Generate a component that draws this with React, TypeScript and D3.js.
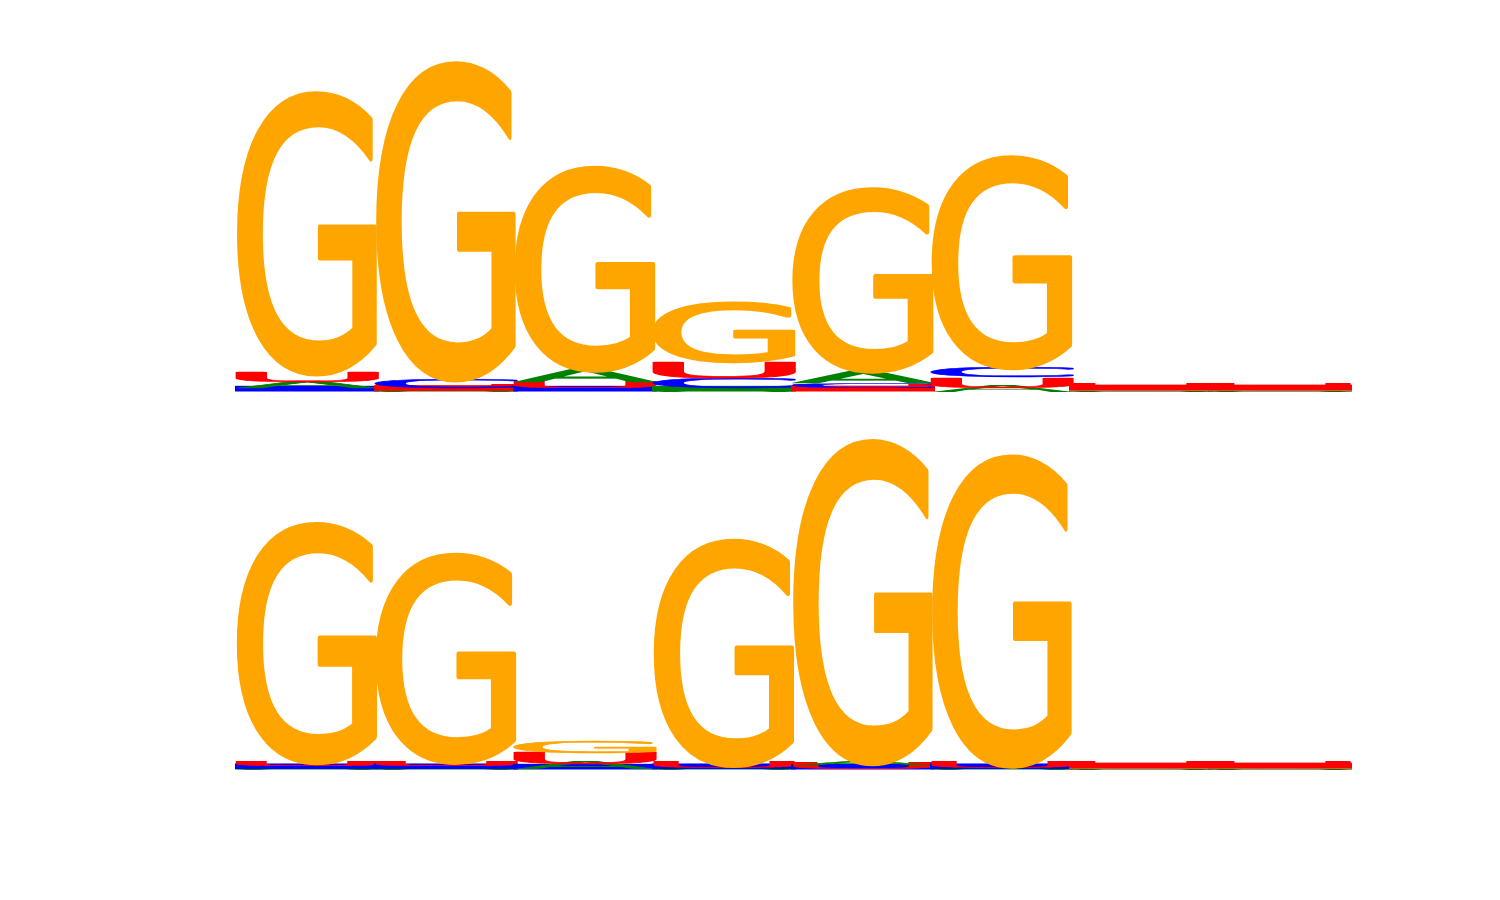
import React from 'react';
import * as d3 from 'd3';

// RNA sequence logo, two motifs, 8 positions each (heights in bits)
const letters = ['A', 'C', 'G', 'U'];
const letterColors: Record<string, string> = { A: '#008000', C: '#0000ff', G: '#ffa500', U: '#ff0000' };

const row1A = [0.038, 0.003, 0.076, 0.004, 0.071, 0.006, 0.002, 0.002];
const row1C = [0.004, 0.059, 0.004, 0.062, 0.032, 0.065, 0.002, 0.002];
const row1G = [1.65, 1.862, 1.191, 0.35, 1.068, 1.238, 0.002, 0.002];
const row1U = [0.059, 0.005, 0.038, 0.094, 0.005, 0.062, 0.005, 0.005];

const row2A = [0.003, 0.003, 0.012, 0.003, 0.024, 0.003, 0.002, 0.002];
const row2C = [0.003, 0.003, 0.004, 0.003, 0.003, 0.003, 0.002, 0.002];
const row2G = [1.403, 1.221, 0.072, 1.321, 1.897, 1.821, 0.002, 0.002];
const row2U = [0.029, 0.029, 0.068, 0.012, 0.006, 0.012, 0.005, 0.005];

const rows = [
    { baseline: 389, values: [row1A, row1C, row1G, row1U] },
    { baseline: 767, values: [row2A, row2C, row2G, row2U] },
];

const FONT = "'DejaVu Sans'";
const FONT_SIZE = 100;
const EDGE = 5; // glyph outline width, px

// ink bounds of each glyph, so letters can be stretched to fill their box
const measureGlyphs = () => {
    const ctx = document.createElement('canvas').getContext('2d')!;
    ctx.font = `${FONT_SIZE}px ${FONT}`;
    const out: Record<string, { left: number; right: number; ascent: number; descent: number }> = {};
    letters.forEach(l => {
        const m = ctx.measureText(l);
        out[l] = {
            left: m.actualBoundingBoxLeft,
            right: m.actualBoundingBoxRight,
            ascent: m.actualBoundingBoxAscent,
            descent: m.actualBoundingBoxDescent,
        };
    });
    return out;
};

const App: React.FC = () => {
    const glyphs = React.useMemo(measureGlyphs, []);
    const width = 1500;
    const height = 900;
    const nPos = row1G.length;

    const x = d3.scaleLinear().domain([0, nPos]).range([237.5, 1349.5]);
    const letterW = x(1) - x(0);

    const marks: React.ReactNode[] = [];
    rows.forEach((row, r) => {
        const y = d3.scaleLinear().domain([0, 2]).range([row.baseline, row.baseline - 340]);
        for (let i = 0; i < nPos; i++) {
            // small on the bottom, big on top
            const stack = letters
                .map((l, k) => ({ l, v: row.values[k][i] }))
                .sort((a, b) => a.v - b.v);
            let acc = 0;
            stack.forEach(({ l, v }) => {
                let y0 = y(acc + v);
                let y1 = y(acc);
                acc += v;
                const key = `${r}-${i}-${l}`;
                const h = y1 - y0;
                const g = glyphs[l];
                let w = letterW;
                let x0 = x(i);
                // very flat glyphs lose their outline in the browser: draw them at the outlined size
                const flat = h < 3;
                if (flat) {
                    y0 -= EDGE / 2;
                    y1 += EDGE / 2;
                    x0 -= EDGE / 2;
                    w += EDGE;
                }
                // an outlined glyph of almost no height is just a solid band
                if (h < 1) {
                    marks.push(
                        <rect key={key + '-band'} x={x0} y={y0} width={w} height={y1 - y0} fill={letterColors[l]} />
                    );
                }
                const sx = w / (g.left + g.right);
                const sy = (y1 - y0) / (g.ascent + g.descent);
                marks.push(
                    <text
                        key={key}
                        transform={`translate(${x0},${y0}) scale(${sx},${sy}) translate(${g.left},${g.ascent})`}
                        fontFamily={FONT}
                        fontSize={FONT_SIZE}
                        fill={letterColors[l]}
                        stroke={flat ? 'none' : letterColors[l]}
                        strokeWidth={EDGE}
                        strokeLinejoin="round"
                        vectorEffect="non-scaling-stroke"
                    >
                        {l}
                    </text>
                );
            });
        }
    });

    return (
        <svg width={width} height={height} style={{ position: 'absolute', left: 0, top: 0, background: '#fff' }}>
            {marks}
        </svg>
    );
};

export default App;
